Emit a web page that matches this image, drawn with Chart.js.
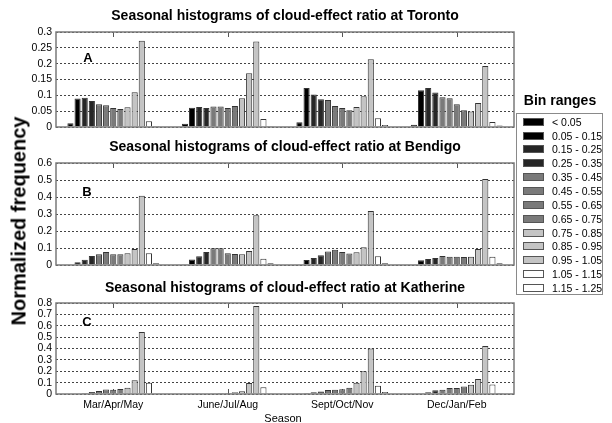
<!DOCTYPE html>
<html>
<head>
<meta charset="utf-8">
<script src="https://cdn.jsdelivr.net/npm/chart.js@4.4.1/dist/chart.umd.min.js"></script>
<style>
  html, body { margin: 0; padding: 0; background: #fff; }
  body { position: relative; width: 612px; height: 423px; overflow: hidden;
         font-family: "Liberation Sans", Arial, sans-serif; color: #000; }
  canvas { position: absolute; left: 0; }
  .panel-letter { position: absolute; font-weight: bold; font-size: 13px; line-height: 1; transform: translate(-50%, -50%); }
  #ylabel { position: absolute; left: 19px; top: 221px; font-weight: bold; font-size: 20px; white-space: nowrap;
            transform: translate(-50%, -50%) rotate(-90deg); }
  #xlabel { position: absolute; left: 283px; top: 418px; font-size: 11px; transform: translate(-50%, -50%); }
  #legend-title { position: absolute; left: 560px; top: 100px; font-weight: bold; font-size: 14px;
                  transform: translate(-50%, -50%); white-space: nowrap; }
  #legend { position: absolute; left: 516px; top: 113px; width: 87px; height: 182px; border: 1px solid #8a8a8a; box-sizing: border-box; }
  .row { position: absolute; left: 0; height: 12px; width: 86px; }
  .sw { position: absolute; left: 6px; top: 2px; width: 21px; height: 8px; border: 1px solid #555; box-sizing: border-box; }
  .tx { position: absolute; left: 35px; top: 0; font-size: 10.5px; line-height: 12px; white-space: nowrap; }
</style>
</head>
<body>
<canvas id="cA" width="612" height="140" style="top:0px"></canvas>
<canvas id="cB" width="612" height="146" style="top:130px"></canvas>
<canvas id="cC" width="612" height="153" style="top:270px"></canvas>

<div class="panel-letter" style="left:88px;top:57px">A</div>
<div class="panel-letter" style="left:87px;top:191px">B</div>
<div class="panel-letter" style="left:87px;top:321px">C</div>
<div id="ylabel">Normalized frequency</div>
<div id="xlabel">Season</div>
<div id="legend-title">Bin ranges</div>
<div id="legend"></div>

<script>
// Seasons on the x axis
const seasons = ['Mar/Apr/May', 'June/Jul/Aug', 'Sept/Oct/Nov', 'Dec/Jan/Feb'];

// Cloud-effect ratio bins
const binLabels = ['< 0.05', '0.05 - 0.15', '0.15 - 0.25', '0.25 - 0.35', '0.35 - 0.45', '0.45 - 0.55',
                   '0.55 - 0.65', '0.65 - 0.75', '0.75 - 0.85', '0.85 - 0.95', '0.95 - 1.05',
                   '1.05 - 1.15', '1.15 - 1.25'];
const binColors = ['#000000', '#000000', '#262626', '#262626', '#7a7a7a', '#7a7a7a', '#7a7a7a',
                   '#7a7a7a', '#c4c4c4', '#c4c4c4', '#c4c4c4', '#ffffff', '#ffffff'];

// Normalized frequency per bin, one array per season
const torontoMAM = [0.012, 0.090, 0.092, 0.082, 0.072, 0.069, 0.060, 0.057, 0.062, 0.110, 0.272, 0.018, 0.003];
const torontoJJA = [0.010, 0.061, 0.063, 0.060, 0.065, 0.065, 0.060, 0.066, 0.091, 0.170, 0.270, 0.025, 0.003];
const torontoSON = [0.015, 0.123, 0.103, 0.088, 0.085, 0.066, 0.060, 0.053, 0.063, 0.097, 0.214, 0.028, 0.006];
const torontoDJF = [0.007, 0.116, 0.123, 0.109, 0.094, 0.091, 0.072, 0.053, 0.049, 0.076, 0.193, 0.016, 0.005];

const bendigoMAM = [0, 0.016, 0.031, 0.053, 0.063, 0.077, 0.063, 0.063, 0.069, 0.094, 0.407, 0.069, 0.010];
const bendigoJJA = [0.004, 0.033, 0.051, 0.077, 0.098, 0.098, 0.069, 0.065, 0.063, 0.083, 0.293, 0.037, 0.010];
const bendigoSON = [0, 0.030, 0.041, 0.057, 0.079, 0.089, 0.077, 0.067, 0.075, 0.104, 0.317, 0.051, 0.010];
const bendigoDJF = [0, 0.028, 0.035, 0.041, 0.053, 0.049, 0.049, 0.047, 0.049, 0.094, 0.506, 0.049, 0.010];

const katherineMAM = [0, 0, 0.008, 0.017, 0.027, 0.040, 0.038, 0.045, 0.054, 0.121, 0.545, 0.100, 0.007];
const katherineJJA = [0, 0, 0, 0, 0.007, 0.009, 0.009, 0.016, 0.025, 0.097, 0.773, 0.060, 0.006];
const katherineSON = [0.006, 0.009, 0.015, 0.023, 0.035, 0.038, 0.041, 0.055, 0.099, 0.200, 0.401, 0.073, 0.017];
const katherineDJF = [0, 0.006, 0.015, 0.032, 0.038, 0.052, 0.052, 0.067, 0.081, 0.131, 0.422, 0.084, 0.009];

// y-axis ranges per panel
const torontoAxis = { max: 0.3, step: 0.05 };
const bendigoAxis = { max: 0.6, step: 0.1 };
const katherineAxis = { max: 0.8, step: 0.1 };

// Inward season ticks on the bottom (behind bars) and top edges, and a box around the plot area
const seasonTicks = {
  id: 'seasonTicks',
  beforeDatasetsDraw(chart) {
    const { ctx, chartArea: a, scales: { x } } = chart;
    ctx.save();
    ctx.strokeStyle = '#555';
    ctx.lineWidth = 1;
    x.ticks.forEach((t, i) => {
      const px = Math.round(x.getPixelForTick(i)) + 0.5;
      ctx.beginPath();
      ctx.moveTo(px, a.bottom); ctx.lineTo(px, a.bottom - 5);
      ctx.stroke();
    });
    ctx.restore();
  },
  afterDatasetsDraw(chart) {
    const { ctx, chartArea: a, scales: { x } } = chart;
    ctx.save();
    ctx.strokeStyle = '#555';
    ctx.lineWidth = 1;
    x.ticks.forEach((t, i) => {
      const px = Math.round(x.getPixelForTick(i)) + 0.5;
      ctx.beginPath();
      ctx.moveTo(px, a.top); ctx.lineTo(px, a.top + 5);
      ctx.stroke();
    });
    ctx.strokeStyle = '#7a7a7a';
    ctx.lineWidth = 1.5;
    ctx.strokeRect(a.left, a.top, a.right - a.left, a.bottom - a.top);
    ctx.restore();
  }
};

function fmt(v) { return String(parseFloat(Number(v).toFixed(2))); }

function makePanel(id, title, seasonArrays, axis, opts) {
  // one dataset per bin, values across the four seasons
  const datasets = binLabels.map((lab, b) => ({
    label: lab,
    data: seasonArrays.map(s => s[b]),
    backgroundColor: binColors[b],
    borderColor: '#333333',
    borderWidth: 1,
    borderSkipped: 'start',
    categoryPercentage: 0.81,
    barPercentage: 0.86
  }));
  return new Chart(document.getElementById(id), {
    type: 'bar',
    data: { labels: seasons, datasets },
    plugins: [seasonTicks],
    options: {
      responsive: false,
      animation: false,
      events: [],
      layout: { padding: { left: 0, right: 98, top: 0, bottom: 0 } },
      plugins: {
        legend: { display: false },
        tooltip: { enabled: false },
        title: {
          display: true,
          text: title,
          fullSize: false,
          color: '#000',
          font: { family: '"Liberation Sans", Arial, sans-serif', size: 14, weight: 'bold', lineHeight: 1.2 },
          padding: { top: opts.titleTop, bottom: opts.titleBottom }
        }
      },
      scales: {
        x: {
          type: 'category',
          grid: { display: false, drawTicks: false },
          border: { display: false },
          ticks: {
            display: opts.showLabels,
            padding: 5,
            color: '#000',
            maxRotation: 0,
            font: { family: '"Liberation Sans", Arial, sans-serif', size: 10.5 }
          },
          afterFit(scale) { scale.height = opts.xHeight; }
        },
        y: {
          min: 0,
          max: axis.max,
          grid: {
            color: '#444',
            lineWidth: 1,
            drawTicks: false
          },
          border: { display: false, dash: [2, 2] },
          ticks: {
            stepSize: axis.step,
            autoSkip: false,
            padding: 4,
            color: '#000',
            font: { family: '"Liberation Sans", Arial, sans-serif', size: 10.5 },
            callback: v => fmt(v)
          },
          afterFit(scale) { scale.width = 56; }
        }
      }
    }
  });
}

makePanel('cA', 'Seasonal histograms of cloud-effect ratio at Toronto',
  [torontoMAM, torontoJJA, torontoSON, torontoDJF], torontoAxis,
  { titleTop: 7.6, titleBottom: 7.6, xHeight: 13, showLabels: false });
makePanel('cB', 'Seasonal histograms of cloud-effect ratio at Bendigo',
  [bendigoMAM, bendigoJJA, bendigoSON, bendigoDJF], bendigoAxis,
  { titleTop: 8.8, titleBottom: 7.4, xHeight: 11, showLabels: false });
makePanel('cC', 'Seasonal histograms of cloud-effect ratio at Katherine',
  [katherineMAM, katherineJJA, katherineSON, katherineDJF], katherineAxis,
  { titleTop: 9.6, titleBottom: 6.6, xHeight: 29, showLabels: true });

// Legend rows built from the bin arrays
const legend = document.getElementById('legend');
binLabels.forEach((lab, i) => {
  const row = document.createElement('div');
  row.className = 'row';
  row.style.top = (1.7 + i * 13.86) + 'px';
  const sw = document.createElement('div');
  sw.className = 'sw';
  sw.style.background = binColors[i];
  const tx = document.createElement('div');
  tx.className = 'tx';
  tx.textContent = lab;
  row.appendChild(sw);
  row.appendChild(tx);
  legend.appendChild(row);
});
</script>
</body>
</html>
